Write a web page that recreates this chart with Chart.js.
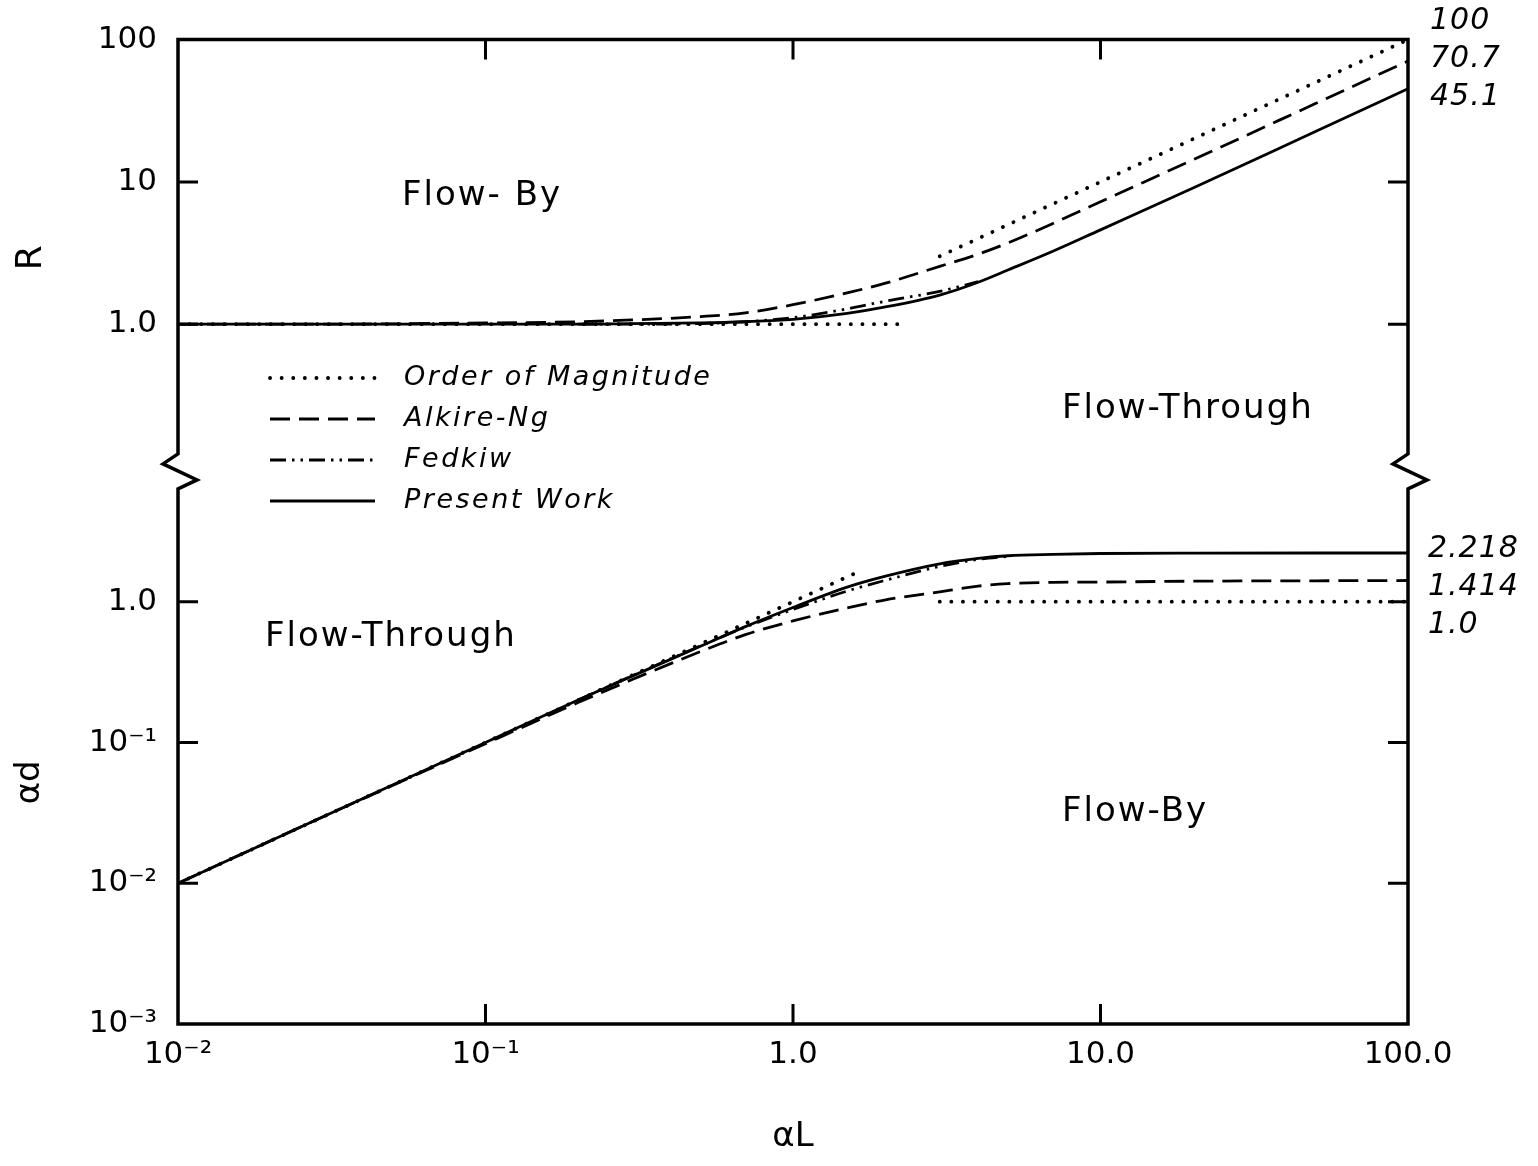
<!DOCTYPE html>
<html>
<head>
<meta charset="utf-8">
<title>Flow-By / Flow-Through regions</title>
<script src="https://cdn.jsdelivr.net/npm/chart.js@4.4.1/dist/chart.umd.min.js"></script>
<style>
  html, body { margin: 0; padding: 0; background: #fff; }
  #wrap { width: 1538px; height: 1166px; }
</style>
</head>
<body>
<div id="wrap"><canvas id="regionChart" width="1538" height="1166"></canvas></div>
<script>
// alpha L values used by the smooth curves
const alphaL = [0.01, 0.03, 0.1, 0.2, 0.3, 0.5, 0.7, 1.0, 1.5, 2.0, 3.0, 4.0, 5.0, 7.0, 10, 20, 50, 100];

// Present Work
const presentR = [1.0, 1.0, 1.0, 1.0, 1.01, 1.02, 1.04, 1.08, 1.19, 1.32, 1.60, 1.97, 2.40, 3.25, 4.60, 9.05, 22.6, 45.1];
const presentAd = [0.01, 0.03, 0.1, 0.2, 0.296, 0.482, 0.665, 0.91, 1.27, 1.52, 1.86, 2.03, 2.12, 2.17, 2.20, 2.215, 2.218, 2.218];

// Alkire-Ng
const alkireR = [1.0, 1.0, 1.02, 1.04, 1.07, 1.13, 1.20, 1.37, 1.66, 1.94, 2.55, 3.10, 3.72, 5.10, 7.25, 14.3, 35.5, 70.7];
const alkireAd = [0.01, 0.03, 0.098, 0.192, 0.280, 0.442, 0.583, 0.73, 0.904, 1.031, 1.176, 1.29, 1.344, 1.373, 1.379, 1.399, 1.408, 1.414];

// Fedkiw (only drawn over the transition)
const fedkiwTopL = [0.2, 0.3, 0.5, 0.7, 1.0, 1.5, 2.0, 3.0, 4.0];
const fedkiwR = [1.0, 1.0, 1.01, 1.04, 1.11, 1.28, 1.45, 1.70, 1.99];
const fedkiwBotL = [0.2, 0.3, 0.5, 0.7, 1.0, 1.5, 2.0, 3.0, 4.0, 5.0];
const fedkiwAd = [0.2, 0.298, 0.485, 0.66, 0.88, 1.19, 1.42, 1.78, 2.0, 2.1];

// Order of Magnitude (two straight pieces in each panel)
const orderTopL1 = [0.01, 2.25];
const orderTopR1 = [1, 1];
const orderTopL2 = [3, 100];
const orderTopR2 = [3, 100];
const orderBotL1 = [0.01, 1.65];
const orderBotAd1 = [0.01, 1.65];
const orderBotL2 = [3, 100];
const orderBotAd2 = [1, 1];

// tick labels
const xTickValues = [0.01, 0.1, 1, 10, 100];
const xTickLabels = ['10⁻²', '10⁻¹', '1.0', '10.0', '100.0'];
const rTickValues = [1, 10, 100];
const rTickLabels = ['1.0', '10', '100'];
const adTickValues = [0.001, 0.01, 0.1, 1];
const adTickLabels = ['10⁻³', '10⁻²', '10⁻¹', '1.0'];

const seriesNames = ['Order of Magnitude', 'Alkire-Ng', 'Fedkiw', 'Present Work'];
const rightNotesTop = ['100', '70.7', '45.1'];
const rightNotesBottom = ['2.218', '1.414', '1.0'];

function pts(xs, ys) {
  return xs.map((x, i) => ({ x: x, y: ys[i] }));
}

const lineStyles = {
  dotted: { borderDash: [0.1, 11.5], borderCapStyle: 'round', borderWidth: 3.8 },
  dashed: { borderDash: [20, 9], borderWidth: 2.8 },
  dashDotDot: { borderDash: [16, 6, 2.5, 6, 2.5, 6], borderWidth: 2.8 },
  solid: { borderDash: [], borderWidth: 2.8 },
};

function series(label, data, axis, style) {
  return Object.assign({
    label: label,
    data: data,
    yAxisID: axis,
    showLine: true,
    pointRadius: 0,
    borderColor: '#000',
    backgroundColor: '#000',
    fill: false,
    cubicInterpolationMode: 'monotone',
  }, lineStyles[style]);
}

function fixedTicks(values, labels) {
  return {
    afterBuildTicks: (s) => { s.ticks = values.map((v) => ({ value: v })); },
    callback: (v) => {
      const i = values.indexOf(v);
      return i >= 0 ? labels[i] : '';
    },
  };
}

Chart.defaults.font.family = '"DejaVu Sans", sans-serif';
Chart.defaults.color = '#000';

// frame with the axis break, inward ticks, legend and text notes
const frameAndNotes = {
  id: 'frameAndNotes',
  afterDraw(chart) {
    const { ctx, chartArea: area, scales } = chart;
    const breakY = scales.yR.bottom;
    ctx.save();
    ctx.strokeStyle = '#000';
    ctx.fillStyle = '#000';

    ctx.lineWidth = 3.5;
    ctx.lineCap = 'square';
    ctx.lineJoin = 'miter';
    ctx.setLineDash([]);
    ctx.beginPath();
    ctx.moveTo(area.left, area.top);
    ctx.lineTo(area.right, area.top);
    ctx.moveTo(area.left, area.bottom);
    ctx.lineTo(area.right, area.bottom);
    [area.left, area.right].forEach((x) => {
      ctx.moveTo(x, area.top);
      ctx.lineTo(x, breakY - 22);
      ctx.lineTo(x - 15, breakY - 12);
      ctx.lineTo(x + 19, breakY + 4);
      ctx.lineTo(x, breakY + 13);
      ctx.lineTo(x, area.bottom);
    });
    ctx.stroke();

    ctx.lineWidth = 3;
    ctx.lineCap = 'butt';
    ctx.beginPath();
    scales.x.ticks.forEach((t) => {
      const px = scales.x.getPixelForValue(t.value);
      if (px <= area.left + 1 || px >= area.right - 1) return;
      ctx.moveTo(px, area.top);
      ctx.lineTo(px, area.top + 20);
      ctx.moveTo(px, area.bottom);
      ctx.lineTo(px, area.bottom - 20);
    });
    [scales.yR, scales.yA].forEach((s) => {
      s.ticks.forEach((t) => {
        const py = s.getPixelForValue(t.value);
        if (py <= area.top + 1 || py >= area.bottom - 1) return;
        ctx.moveTo(area.left, py);
        ctx.lineTo(area.left + 20, py);
        ctx.moveTo(area.right, py);
        ctx.lineTo(area.right - 20, py);
      });
    });
    ctx.stroke();

    // region names
    ctx.textBaseline = 'middle';
    ctx.textAlign = 'left';
    ctx.letterSpacing = '2px';
    ctx.font = '34px "DejaVu Sans"';
    ctx.fillText('Flow- By', 402, 196);
    ctx.fillText('Flow-Through', 1062, 409);
    ctx.fillText('Flow-Through', 265, 637);
    ctx.fillText('Flow-By', 1062, 812);

    // legend
    const legendStyles = ['dotted', 'dashed', 'dashDotDot', 'solid'];
    ctx.font = 'italic 27px "DejaVu Sans"';
    ctx.letterSpacing = '2.5px';
    seriesNames.forEach((name, i) => {
      const y = 378 + i * 41;
      const st = lineStyles[legendStyles[i]];
      ctx.save();
      ctx.lineWidth = st.borderWidth;
      ctx.lineCap = st.borderCapStyle || 'butt';
      ctx.setLineDash(st.borderDash);
      ctx.beginPath();
      ctx.moveTo(270, y);
      ctx.lineTo(375, y);
      ctx.stroke();
      ctx.restore();
      ctx.fillText(name, 404, y);
    });

    // asymptote values at the right
    ctx.font = 'italic 30px "DejaVu Sans"';
    ctx.letterSpacing = '1px';
    rightNotesTop.forEach((t, i) => ctx.fillText(t, 1430, 21 + i * 38));
    rightNotesBottom.forEach((t, i) => ctx.fillText(t, 1428, 549 + i * 38));
    ctx.restore();
  },
};

const ctx = document.getElementById('regionChart').getContext('2d');
const regionChart = new Chart(ctx, {
  type: 'scatter',
  data: {
    datasets: [
      series('Order of Magnitude', pts(orderTopL1, orderTopR1), 'yR', 'dotted'),
      series('Order of Magnitude', pts(orderTopL2, orderTopR2), 'yR', 'dotted'),
      series('Order of Magnitude', pts(orderBotL1, orderBotAd1), 'yA', 'dotted'),
      series('Order of Magnitude', pts(orderBotL2, orderBotAd2), 'yA', 'dotted'),
      series('Alkire-Ng', pts(alphaL, alkireR), 'yR', 'dashed'),
      series('Alkire-Ng', pts(alphaL, alkireAd), 'yA', 'dashed'),
      series('Fedkiw', pts(fedkiwTopL, fedkiwR), 'yR', 'dashDotDot'),
      series('Fedkiw', pts(fedkiwBotL, fedkiwAd), 'yA', 'dashDotDot'),
      series('Present Work', pts(alphaL, presentR), 'yR', 'solid'),
      series('Present Work', pts(alphaL, presentAd), 'yA', 'solid'),
    ],
  },
  options: {
    responsive: false,
    animation: false,
    devicePixelRatio: 1,
    layout: { padding: { top: 38, right: 130, left: 0, bottom: 0 } },
    plugins: {
      legend: { display: false },
      tooltip: { enabled: false },
    },
    scales: {
      x: {
        type: 'logarithmic',
        position: 'bottom',
        min: 0.01,
        max: 100,
        grid: { display: false, drawTicks: false },
        border: { display: false },
        afterBuildTicks: fixedTicks(xTickValues, xTickLabels).afterBuildTicks,
        afterFit: (s) => { s.height = 142; },
        ticks: {
          callback: fixedTicks(xTickValues, xTickLabels).callback,
          autoSkip: false,
          maxRotation: 0,
          padding: 12,
          font: { size: 31 },
        },
        title: {
          display: true,
          text: 'αL',
          font: { size: 34 },
          padding: { top: 0, bottom: 8 },
        },
      },
      // bottom panel (defined first so that it is stacked below)
      yA: {
        type: 'logarithmic',
        position: 'left',
        stack: 'panels',
        stackWeight: 549,
        min: 0.001,
        max: 7.83,
        grid: { display: false, drawTicks: false },
        border: { display: false },
        afterBuildTicks: fixedTicks(adTickValues, adTickLabels).afterBuildTicks,
        afterFit: (s) => { s.width = 178; },
        ticks: {
          callback: fixedTicks(adTickValues, adTickLabels).callback,
          autoSkip: false,
          padding: 21,
          font: { size: 31 },
        },
        title: {
          display: true,
          text: 'αd      ',
          font: { size: 34 },
          padding: { top: 10, bottom: 0 },
        },
      },
      // top panel
      yR: {
        type: 'logarithmic',
        position: 'left',
        stack: 'panels',
        stackWeight: 437,
        min: 0.0858,
        max: 100,
        grid: { display: false, drawTicks: false },
        border: { display: false },
        afterBuildTicks: fixedTicks(rTickValues, rTickLabels).afterBuildTicks,
        afterFit: (s) => { s.width = 178; },
        ticks: {
          callback: fixedTicks(rTickValues, rTickLabels).callback,
          autoSkip: false,
          padding: 21,
          font: { size: 31 },
        },
        title: {
          display: true,
          text: 'R',
          font: { size: 36 },
          padding: { top: 10, bottom: 0 },
        },
      },
    },
  },
  plugins: [frameAndNotes],
});
</script>
</body>
</html>
